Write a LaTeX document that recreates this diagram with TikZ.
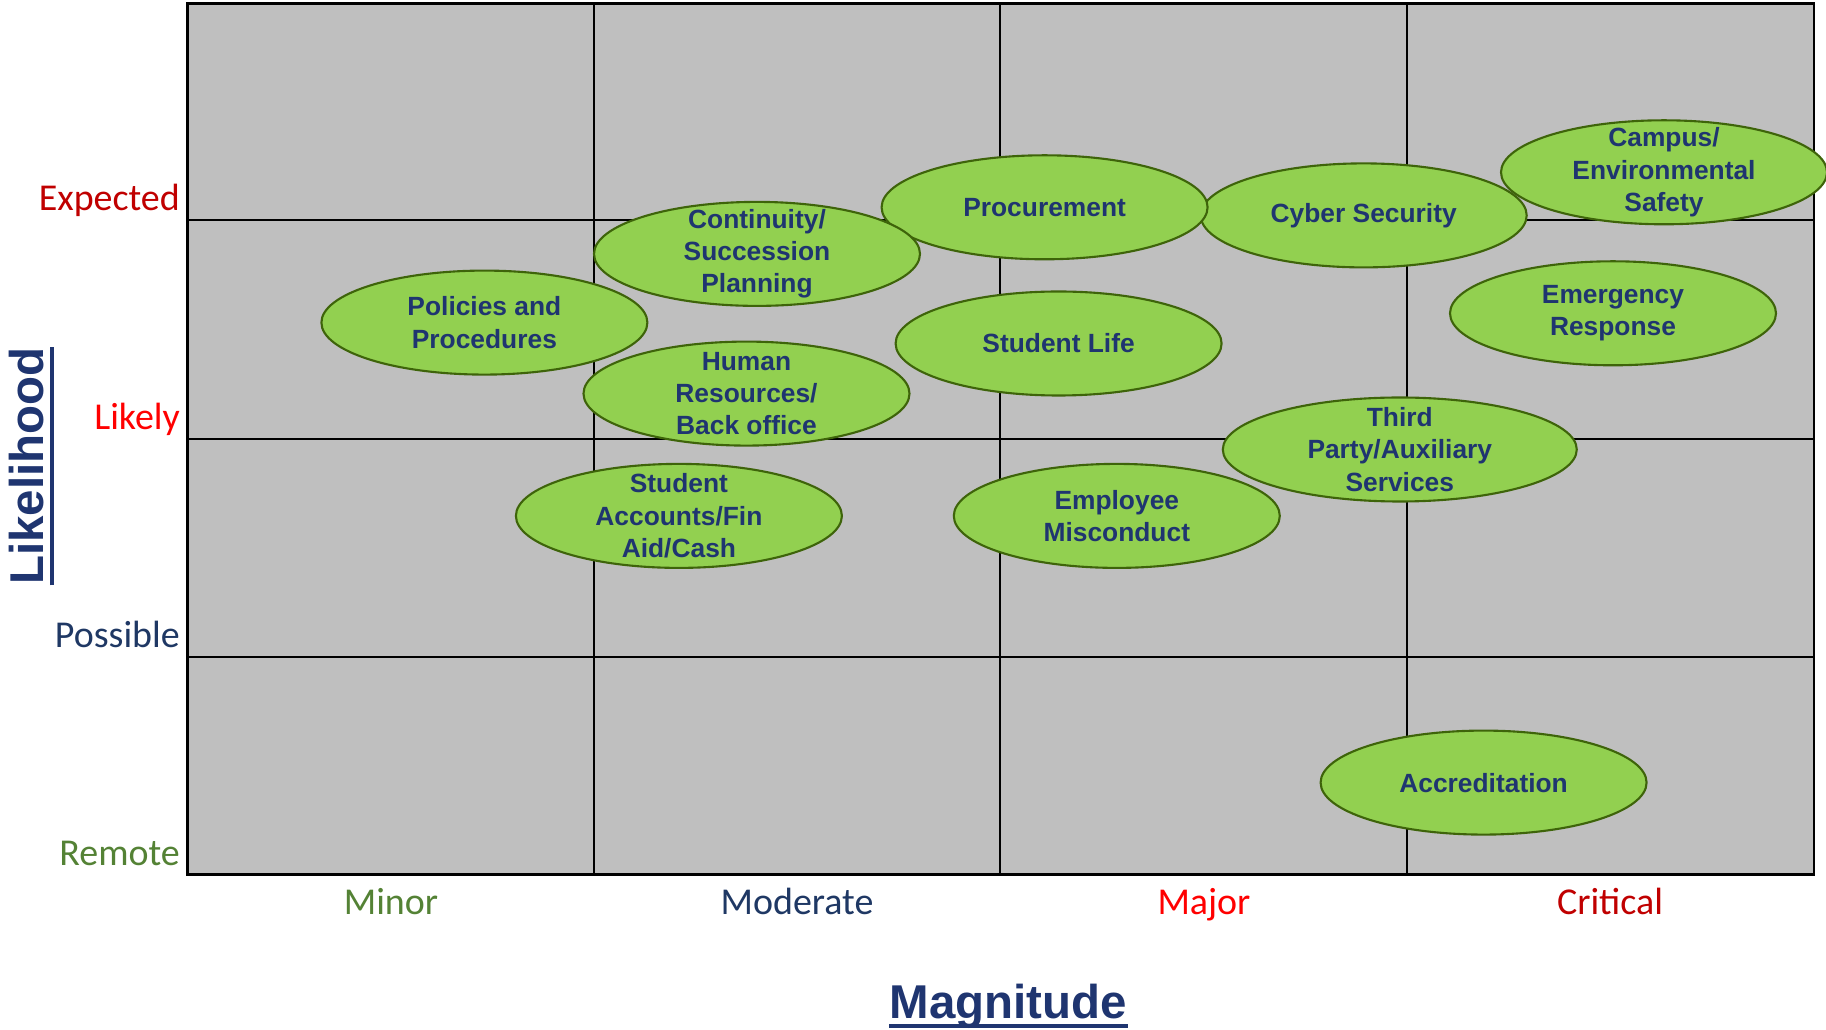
\documentclass[tikz,border=0pt]{standalone}
\usepackage{fontspec}
\setmainfont{Liberation Sans}
\newfontfamily\axisfont{Carlito}
\usepackage{tikz}
\usetikzlibrary{positioning, shapes}

\definecolor{cellgray}{RGB}{191,191,191}
\definecolor{riskgreen}{RGB}{146,208,80}
\definecolor{riskedge}{RGB}{62,100,10}
\definecolor{risknavy}{RGB}{31,53,112}
\definecolor{lvlgreen}{RGB}{84,130,53}
\definecolor{lvlnavy}{RGB}{31,56,100}
\definecolor{lvlred}{RGB}{255,0,0}
\definecolor{lvldark}{RGB}{192,0,0}

\begin{document}
\begin{tikzpicture}[
	risk/.style={ellipse, draw=riskedge, line width=0.6pt, fill=riskgreen, text=risknavy,
		font=\fontsize{7.5}{9.2}\selectfont\bfseries, align=center,
		minimum width=3.26cm, minimum height=1.04cm, inner xsep=0pt, inner ysep=-5pt},
	lvl/.style={font=\axisfont\fontsize{10.8}{13}\selectfont, anchor=base east, inner sep=0pt},
	mag/.style={font=\axisfont\fontsize{10.8}{13}\selectfont, anchor=base, inner sep=0pt},
	axistitle/.style={font=\fontsize{13.5}{16}\selectfont\bfseries, text=risknavy, inner sep=0pt, anchor=base},
	ulline/.style={draw=risknavy, line width=0.9pt}
	]
	
	\useasboundingbox (0,0) rectangle (18.26,10.30);
	
	%Grid
	\fill[cellgray] (1.875,1.555) rectangle (18.14,10.265);
	\foreach \x in {5.94, 10.003, 14.068}
	\draw[line width=0.5pt] (\x,1.555) -- (\x,10.265);
	\foreach \y in {3.733, 5.91, 8.10}
	\draw[line width=0.65pt] (1.875,\y) -- (18.14,\y);
	\draw[line width=0.8pt] (1.875,1.555) rectangle (18.14,10.265);
	\draw[line width=1.1pt] (1.875,1.555) -- (18.14,1.555);
	
	%Risk nodes
	\node [risk] (policies) at (4.844,7.074) {Policies and\\Procedures};
	\node [risk] (humanRes) at (7.465,6.364) {Human\\Resources/\\Back office};
	\node [risk] (cyber) at (13.637,8.146) {Cyber Security};
	\node [risk] (campus) at (16.64,8.577) {Campus/\\Environmental\\Safety};
	\node [risk] (procurement) at (10.446,8.227) {Procurement};
	\node [risk] (continuity) at (7.57,7.761) {Continuity/\\Succession\\Planning};
	\node [risk] (emergency) at (16.13,7.167) {Emergency\\Response};
	\node [risk] (studentLife) at (10.586,6.865) {Student Life};
	\node [risk, minimum width=3.54cm] (thirdParty) at (13.998,5.805) {Third\\Party/Auxiliary\\Services};
	\node [risk] (studentAcc) at (6.789,5.141) {Student\\Accounts/Fin\\Aid/Cash};
	\node [risk] (employee) at (11.168,5.141) {Employee\\Misconduct};
	\node [risk] (accreditation) at (14.836,2.474) {Accreditation};
	
	%Likelihood levels
	\node [lvl, text=lvldark] (expected) at (1.805,8.19) {Expected};
	\node [lvl, text=lvlred] (likely) at (1.805,6.00) {Likely};
	\node [lvl, text=lvlnavy] (possible) at (1.805,3.82) {Possible};
	\node [lvl, text=lvlgreen] (remote) at (1.805,1.64) {Remote};
	
	%Magnitude levels
	\node [mag, text=lvlgreen] (minor) at (3.91,1.15) {Minor};
	\node [mag, text=lvlnavy] (moderate) at (7.97,1.15) {Moderate};
	\node [mag, text=lvlred] (major) at (12.04,1.15) {Major};
	\node [mag, text=lvldark] (critical) at (16.10,1.15) {Critical};
	
	%Axis titles
	\node [axistitle] (magnitude) at (10.085,0.12) {Magnitude};
	\node [axistitle, rotate=90] (likelihood) at (0.44,5.64) {Likelihood};
	\path [ulline] ([yshift=-0.08cm]magnitude.base west) -- ([yshift=-0.08cm]magnitude.base east);
	\path [ulline] ([xshift=0.08cm]likelihood.base west) -- ([xshift=0.08cm]likelihood.base east);
	
\end{tikzpicture}
\end{document}
